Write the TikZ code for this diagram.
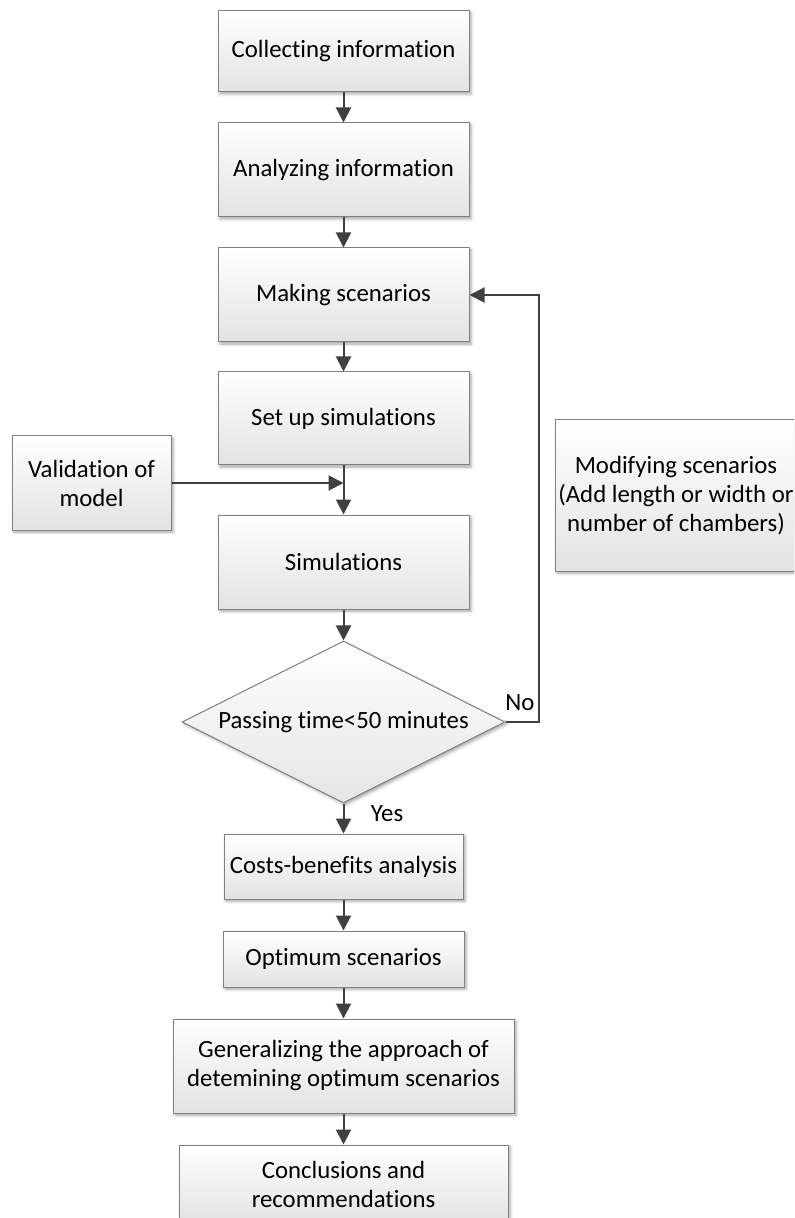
\documentclass[tikz,border=0pt]{standalone}
\usepackage{fontspec}
\setmainfont{Carlito}[Ligatures=NoCommon]
\usetikzlibrary{shapes.geometric,arrows.meta,shadows.blur}

\begin{document}
\begin{tikzpicture}[x=0.5pt,y=-0.5pt,
		font=\fontsize{12.4}{14.5}\selectfont,
		boxshadow/.style={blur shadow={shadow xshift=1pt, shadow yshift=-1pt, shadow blur radius=1.5pt, shadow opacity=35}},
		procbox/.style={draw=black!50, line width=0.5pt, top color=white, bottom color=black!11, align=center, inner sep=0pt, boxshadow},
		decbox/.style={diamond, aspect=2, draw=black!50, line width=0.5pt, top color=white, bottom color=black!10, align=center, inner sep=0pt, boxshadow},
		flowarrow/.style={draw=black!75, line width=1pt, -{Triangle[length=7.5pt,width=7.5pt]}}]
			\useasboundingbox (0,0) rectangle (794,1218);
			\clip (0,0) rectangle (794,1218);
			% main column
			\node [procbox, minimum width=125.5pt, minimum height=40.5pt] (coll) at (343.5,51.5) {Collecting information};
			\node [procbox, minimum width=125.5pt, minimum height=47pt] (anal) at (343.5,170) {Analyzing information};
			\node [procbox, minimum width=125.5pt, minimum height=47pt] (make) at (343.5,295) {Making scenarios};
			\node [procbox, minimum width=125.5pt, minimum height=46.5pt] (setup) at (343.5,418.5) {Set up simulations};
			\node [procbox, minimum width=125.5pt, minimum height=47pt] (sim) at (343.5,562) {Simulations};
			\node [decbox, minimum width=161.5pt, minimum height=81pt] (dec) at (343.5,722) {Passing time<50 minutes};
			\node [procbox, minimum width=119.5pt, minimum height=32.5pt] (cost) at (343.5,866.5) {Costs-benefits analysis};
			\node [procbox, minimum width=120.5pt, minimum height=28pt] (opt) at (343.5,959) {Optimum scenarios};
			\node [procbox, minimum width=170.5pt, minimum height=47pt] (gen) at (343.5,1066) {Generalizing the approach of\\detemining optimum scenarios};
			\node [procbox, minimum width=164.5pt, minimum height=39pt] (concl) at (343.5,1184) {Conclusions and\\recommendations};
			% side boxes
			\node [procbox, minimum width=79.5pt, minimum height=47pt] (val) at (91.5,483) {Validation of\\model};
			\node [procbox, minimum width=121pt, minimum height=75.5pt] (mod) at (676,495.5) {Modifying scenarios\\(Add length or width or\\number of chambers)};
			\coordinate (join) at (343.5,483);
			\coordinate (loop) at (539,295);
			% connectors
			\draw [flowarrow] (coll) -- (anal);
			\draw [flowarrow] (anal) -- (make);
			\draw [flowarrow] (make) -- (setup);
			\draw [flowarrow] (setup) -- (sim);
			\draw [flowarrow] (val.east) -- (join);
			\draw [flowarrow] (sim) -- (dec);
			\draw [flowarrow] (dec.south) -- (cost);
			\draw [flowarrow] (cost) -- (opt);
			\draw [flowarrow] (opt) -- (gen);
			\draw [flowarrow] (gen) -- (concl);
			\draw [flowarrow] (dec.east) -| (loop) -- (make.east);
			\node (no) at (520,703) {No};
			\node (yes) at (387,814) {Yes};
		\end{tikzpicture}
\end{document}
